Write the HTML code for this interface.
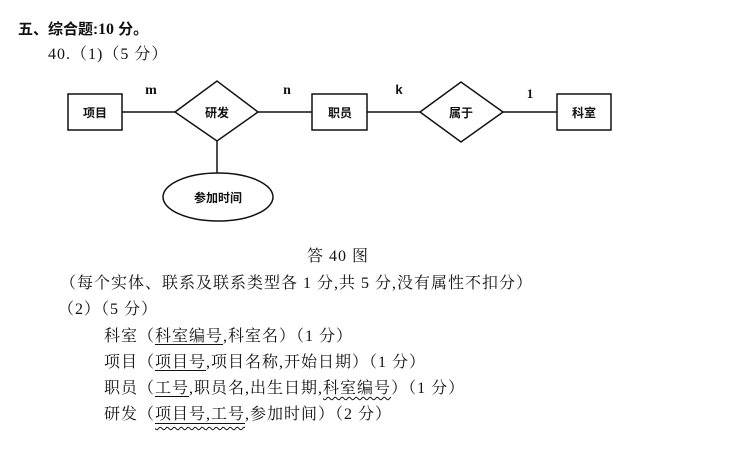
<!DOCTYPE html>
<html><head><meta charset="utf-8"><style>
body{margin:0;width:751px;height:454px;background:#fff;position:relative;overflow:hidden;font-family:"Liberation Serif","Noto Serif CJK SC",serif;color:#111}
.t{position:absolute;white-space:nowrap;font-size:16px;line-height:16px;letter-spacing:1px}
.u{text-decoration:underline;text-underline-offset:3px}
.w{text-decoration:underline wavy;text-underline-offset:3px;text-decoration-thickness:1px}
.uw{border-bottom:1px solid #111;text-decoration:underline wavy;text-underline-offset:7px;text-decoration-thickness:1px}
svg{position:absolute;left:0;top:0}
</style></head><body>
<div class="t" style="left:18px;top:22px;font-weight:bold;font-family:'Liberation Sans','Noto Sans CJK SC',sans-serif;font-size:15px;letter-spacing:0">五、综合题:<span style="font-family:'Liberation Serif',serif;font-size:16px">10</span> 分。</div>
<div class="t" style="left:48px;top:47px">40.（1)（5 分）</div>
<svg width="751" height="454" font-family="'Liberation Sans','Noto Sans CJK SC',sans-serif" font-size="12" font-weight="bold">
<g fill="none" stroke="#111" stroke-width="1.5">
<rect x="68" y="94" width="54" height="36"/>
<rect x="312" y="94" width="55" height="36"/>
<rect x="557" y="94" width="54" height="36"/>
<polygon points="175,112 217,81 258,112 217,141"/>
<polygon points="420,112 461,82 503,112 461,142"/>
<ellipse cx="218" cy="197" rx="55" ry="24"/>
<line x1="122" y1="112" x2="175" y2="112"/>
<line x1="258" y1="112" x2="312" y2="112"/>
<line x1="367" y1="112" x2="420" y2="112"/>
<line x1="503" y1="112" x2="557" y2="112"/>
<line x1="217" y1="141" x2="217" y2="173"/>
</g>
<g fill="#111" text-anchor="middle">
<text x="95" y="117">项目</text>
<text x="217" y="117">研发</text>
<text x="340" y="117">职员</text>
<text x="461" y="117">属于</text>
<text x="584" y="117">科室</text>
<text x="218" y="202">参加时间</text>
<text x="151" y="94" font-family="'Liberation Serif',serif" font-size="14">m</text>
<text x="287" y="94" font-family="'Liberation Serif',serif" font-size="14">n</text>
<text x="399" y="94" font-family="'Liberation Sans',sans-serif" font-size="13">k</text>
<text x="530" y="98" font-family="'Liberation Serif',serif" font-size="13">1</text>
</g>
</svg>
<div class="t" style="left:307px;top:249px">答 40 图</div>
<div class="t" style="left:60px;top:276px">（每个实体、联系及联系类型各 1 分,共 5 分,没有属性不扣分）</div>
<div class="t" style="left:58px;top:302px">（2）（5 分）</div>
<div class="t" style="left:104px;top:329px">科室（<span class="u">科室编号</span>,科室名）（1 分）</div>
<div class="t" style="left:104px;top:355px">项目（<span class="u">项目号</span>,项目名称,开始日期）（1 分）</div>
<div class="t" style="left:104px;top:381px">职员（<span class="u">工号</span>,职员名,出生日期,<span class="w">科室编号</span>）（1 分）</div>
<div class="t" style="left:104px;top:407px">研发（<span class="uw">项目号,工号</span>,参加时间）（2 分）</div>
</body></html>
